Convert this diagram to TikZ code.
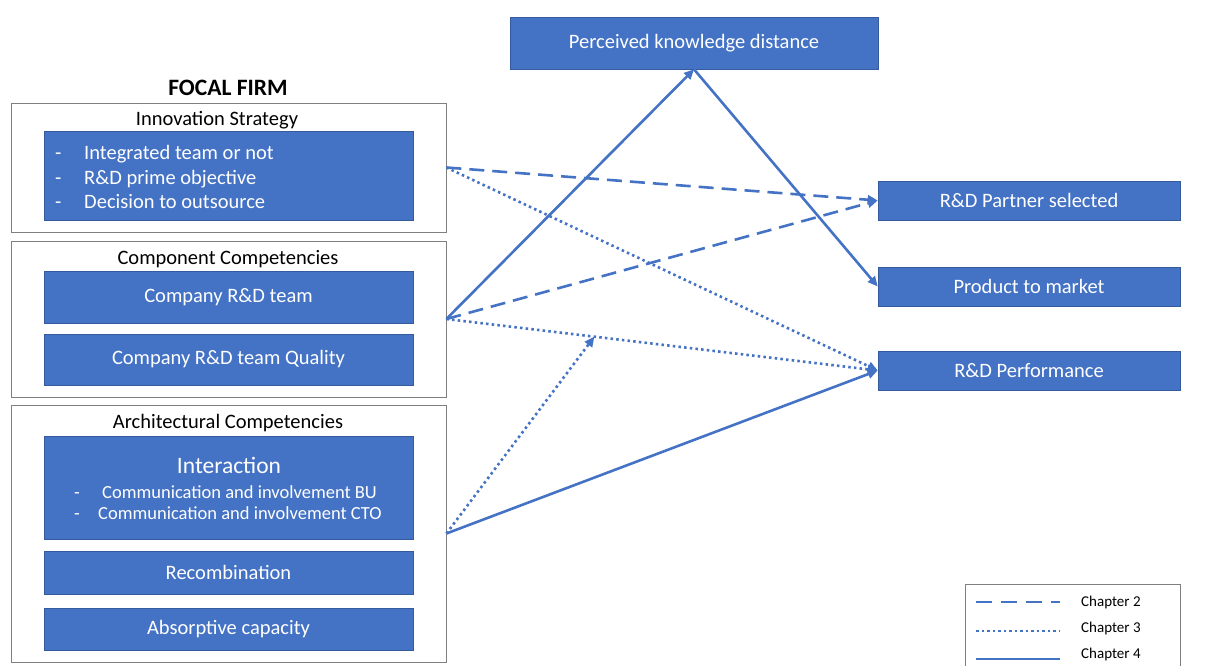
\documentclass[tikz,border=0pt]{standalone}
\usepackage{fontspec}
\setmainfont{Carlito}
\usetikzlibrary{arrows.meta,calc}
\definecolor{bl}{HTML}{4472C4}
\definecolor{frame}{HTML}{7F7F7F}
\tikzset{
  mainf/.style={font=\fontsize{20.5}{24}\selectfont},
  bluebox/.style={draw=bl!80!black, line width=0.6pt, fill=bl, text=white, minimum width=369pt, inner sep=0pt, mainf},
  rbox/.style={draw=bl!80!black, line width=0.6pt, fill=bl, text=white, minimum width=302pt, minimum height=39pt, inner sep=0pt, mainf},
  outer/.style={draw=frame, line width=0.8pt, minimum width=435pt, inner sep=0pt},
  ttl/.style={mainf, inner sep=0pt},
  wtxt/.style={text=white, inner sep=0pt, anchor=base west},
  link/.style={draw=bl, line width=2.6pt, -{Triangle[length=10pt,width=9pt]}},
  dsh/.style={link, dash pattern=on 15pt off 8pt},
  dtt/.style={link, dash pattern=on 2.5pt off 3.2pt},
  leg/.style={font=\fontsize{15}{18}\selectfont, inner sep=0pt, anchor=west},
}
\begin{document}
\begin{tikzpicture}[x=1pt,y=-1pt]
\useasboundingbox (0,0) rectangle (1209,666);
% top box
\node[bluebox, minimum width=368pt, minimum height=52pt] (pkd) at (694,43) {Perceived knowledge distance};
\node[font=\bfseries\fontsize{23.5}{27}\selectfont, inner sep=0pt] (ff) at (228,88) {FOCAL FIRM};
% outer boxes
\node[outer, minimum height=129pt] (inn) at (228.5,167.5) {};
\node[outer, minimum height=156pt] (comp) at (228.5,319) {};
\node[outer, minimum height=257pt] (arch) at (228.5,533.5) {};
\node[ttl] (innt) at (217,120) {Innovation Strategy};
\node[ttl] (compt) at (228,259) {Component Competencies};
\node[ttl] (archt) at (228,423) {Architectural Competencies};
% innovation strategy content
\node[bluebox, minimum height=89pt] (strat) at (228.5,175.5) {};
\foreach \yy/\tt [count=\i] in {159/Integrated team or not,184/R\&D prime objective,208/Decision to outsource}{
  \node[wtxt, mainf] (sd\i) at (55,\yy) {-};
  \node[wtxt, mainf] (st\i) at (84,\yy) {\tt};
}
% component competencies
\node[bluebox, minimum height=52pt] (team) at (228.5,297) {Company R\&D team};
\node[bluebox, minimum height=51pt] (teamq) at (228.5,359.5) {Company R\&D team Quality};
% architectural
\node[bluebox, minimum height=103pt] (inter) at (228.5,487.5) {};
\node[text=white, font=\fontsize{23.5}{28}\selectfont, inner sep=0pt] (intt) at (229,465) {Interaction};
\node[wtxt, font=\fontsize{18.5}{22}\selectfont] (id1) at (74,498) {-};
\node[wtxt, font=\fontsize{18.5}{22}\selectfont] (id2) at (74,519) {-};
\node[wtxt, font=\fontsize{18.5}{22}\selectfont] (it1) at (102,498) {Communication and involvement BU};
\node[wtxt, font=\fontsize{18.5}{22}\selectfont] (it2) at (98,519) {Communication and involvement CTO};
\node[bluebox, minimum height=43pt] (recomb) at (228.5,572.5) {Recombination};
\node[bluebox, minimum height=42pt] (absorb) at (228.5,629) {Absorptive capacity};
% right boxes
\node[rbox] (partner) at (1029,200.5) {R\&D Partner selected};
\node[rbox] (market) at (1029,286.5) {Product to market};
\node[rbox] (perf) at (1029,370.5) {R\&D Performance};
% connectors
\draw[dsh] (inn.east) -- (partner.west);
\draw[dsh] (comp.east) -- (partner.west);
\draw[dtt] (inn.east) -- (perf.west);
\draw[dtt] (comp.east) -- (perf.west);
\coordinate (mod) at ($(comp.east)!0.343!(perf.west)$);
\draw[dtt] (arch.east) -- (mod);
\draw[link] (comp.east) -- (pkd.south);
\draw[link] (pkd.south) -- (market.west);
\draw[link] (arch.east) -- (perf.west);
% legend
\node[draw=frame, line width=0.8pt, minimum width=215pt, minimum height=84pt, inner sep=0pt] (legend) at (1072.5,626) {};
\coordinate (l1a) at (976,602); \coordinate (l1b) at (1060,602);
\coordinate (l2a) at (976,631); \coordinate (l2b) at (1060,631);
\coordinate (l3a) at (976,659); \coordinate (l3b) at (1060,659);
\draw[draw=bl, line width=2.6pt, dash pattern=on 16pt off 9pt] (l1a) -- (l1b);
\draw[draw=bl, line width=2.6pt, dash pattern=on 2.5pt off 3pt] (l2a) -- (l2b);
\draw[draw=bl, line width=2.6pt] (l3a) -- (l3b);
\node[leg] (c2) at (1081,602) {Chapter 2};
\node[leg] (c3) at (1081,628) {Chapter 3};
\node[leg] (c4) at (1081,654) {Chapter 4};
\end{tikzpicture}
\end{document}
